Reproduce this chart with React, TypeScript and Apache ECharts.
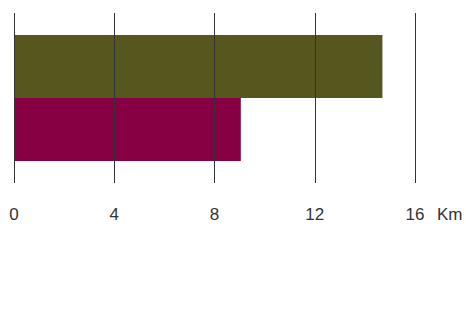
import React, { useEffect, useRef } from "react";
import * as echarts from "echarts";

const categories = ["Distance"];
const seriesNames = ["A", "B"];
const seriesValues = [[14.7], [9.05]];
const seriesColors = ["#56561f", "#880044"];
const xTicks = [0, 4, 8, 12, 16];
const unitLabel = "Km";

export default function App() {
  const ref = useRef<HTMLDivElement>(null);
  useEffect(() => {
    document.body.style.margin = "0";
    const chart = echarts.init(ref.current!, null, { renderer: "svg" });
    chart.setOption({
      animation: false,
      grid: { left: 14, right: 51, top: 13, bottom: 147 },
      xAxis: {
        type: "value",
        min: xTicks[0],
        max: xTicks[xTicks.length - 1],
        interval: 4,
        z: 5,
        axisLine: { show: false },
        axisTick: { show: false },
        splitLine: { show: true, lineStyle: { color: "#333", width: 1 } },
        axisLabel: {
          margin: 23,
          fontSize: 17,
          color: "#333",
          fontFamily: "Liberation Sans",
        },
        name: unitLabel,
        nameLocation: "end",
        nameGap: 22,
        nameTextStyle: {
          fontSize: 17,
          color: "#333",
          fontFamily: "Liberation Sans",
          align: "left",
          verticalAlign: "top",
          padding: [23, 0, 0, 0],
        },
      },
      yAxis: {
        type: "category",
        data: categories,
        axisLine: { show: false },
        axisTick: { show: false },
        axisLabel: { show: false },
        splitLine: { show: false },
      },
      series: seriesNames.map((n, i) => ({
        name: n,
        type: "bar",
        data: seriesValues[i],
        barWidth: 63,
        barGap: "0%",
        itemStyle: { color: seriesColors[i] },
      })),
    });
    return () => chart.dispose();
  }, []);
  return <div ref={ref} style={{ width: 466, height: 330 }} />;
}
